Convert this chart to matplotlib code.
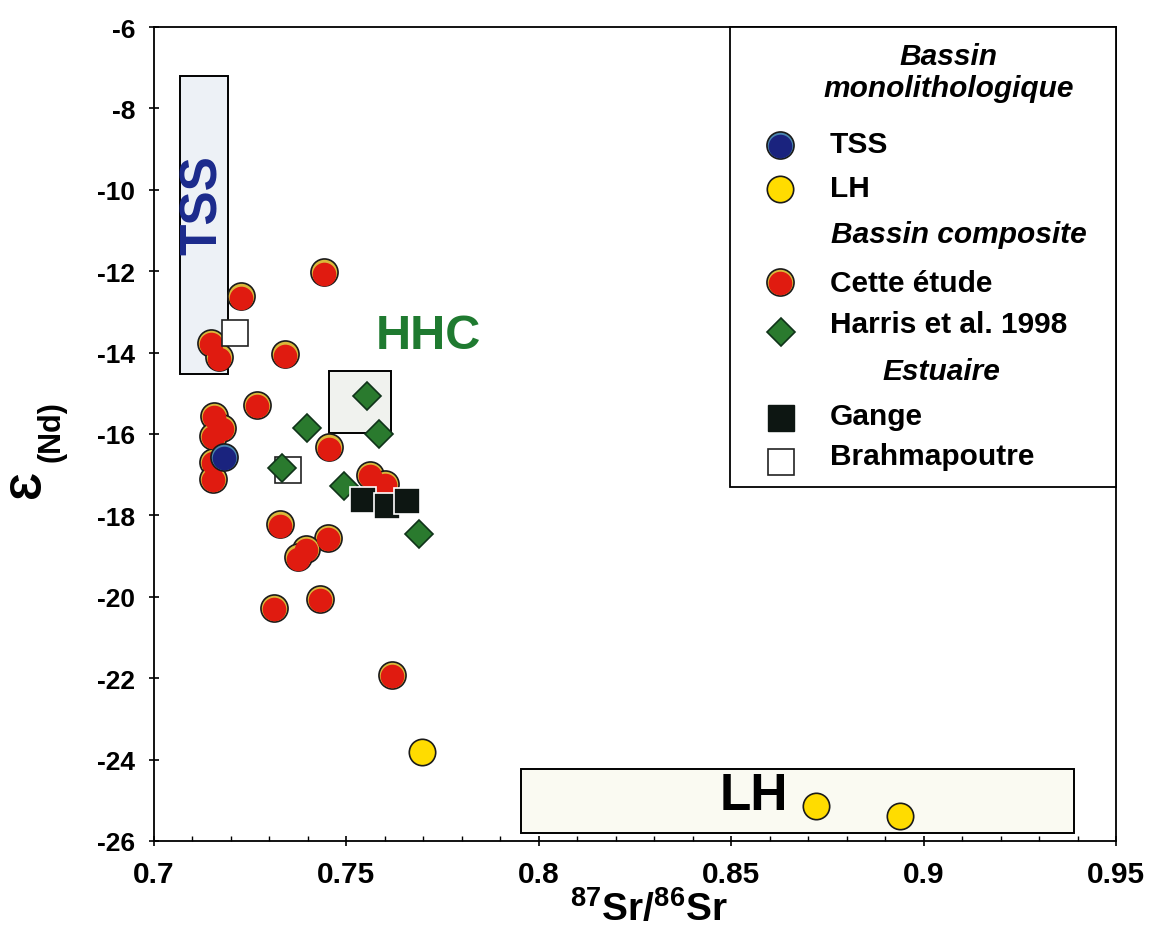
import matplotlib
matplotlib.use('Agg')
import matplotlib.pyplot as plt
from matplotlib.patches import Rectangle
from matplotlib.transforms import offset_copy
from matplotlib.ticker import MultipleLocator

plt.rcParams['font.family'] = ['Liberation Sans', 'DejaVu Sans']
plt.rcParams['font.weight'] = 'bold'
plt.rcParams['mathtext.fontset'] = 'custom'
plt.rcParams['mathtext.rm'] = 'Liberation Sans:bold'
plt.rcParams['mathtext.bf'] = 'Liberation Sans:bold'
plt.rcParams['mathtext.default'] = 'rm'

# données (87Sr/86Sr, eps Nd)
cette_sr = [0.7442, 0.7226, 0.7147, 0.7170, 0.7341, 0.7268, 0.7156, 0.7176, 0.7154,
            0.7153, 0.7153, 0.7455, 0.7561, 0.7600, 0.7327, 0.7453, 0.7395, 0.7375,
            0.7312, 0.7431, 0.7618]
cette_nd = [-12.03, -12.62, -13.76, -14.12, -14.04, -15.28, -15.55, -15.85, -16.04,
            -16.68, -17.11, -16.33, -17.01, -17.23, -18.22, -18.56, -18.83, -19.03,
            -20.28, -20.05, -21.91]
tss_sr = [0.7182]
tss_nd = [-16.57]
lh_sr = [0.7696, 0.8721, 0.8939]
lh_nd = [-23.81, -25.15, -25.39]
harris_sr = [0.7553, 0.7586, 0.7397, 0.7332, 0.7494, 0.7689]
harris_nd = [-15.07, -16.00, -15.85, -16.84, -17.27, -18.46]
gange_sr = [0.7544, 0.7606, 0.7657]
gange_nd = [-17.62, -17.76, -17.65]
brahma_sr = [0.7211, 0.7348]
brahma_nd = [-13.52, -16.88]

# champs des sources (sr min, sr max, nd min, nd max)
champ_tss = (0.7068, 0.7193, -14.52, -7.21)
champ_hhc = (0.7456, 0.7616, -15.98, -14.44)
champ_lh = (0.7953, 0.9392, -25.81, -24.23)

W, H = 1151, 929
fig = plt.figure(figsize=(W / 100, H / 100), dpi=100)
ax = fig.add_axes([154 / W, 1 - 842 / H, 962 / W, 814 / H])


def fx(px):
    return px / W


def fy(py):
    return 1 - py / H


def boules(x, y, face, reflet, tr, z, ms=19.5):
    # cercle avec un liseré clair en haut (effet relief)
    ax.plot(x, y, ls='none', marker='o', ms=ms, mfc=reflet, mec='#1a1a1a', mew=1.2,
            transform=tr, zorder=z, clip_on=False)
    ax.plot(x, y, ls='none', marker='o', ms=ms - 2.5, mfc=face, mec='none',
            transform=offset_copy(tr, fig=fig, x=0, y=-1.3, units='dots'),
            zorder=z + 0.1, clip_on=False)


def champ(c, fc):
    ax.add_patch(Rectangle((c[0], c[2]), c[1] - c[0], c[3] - c[2], fc=fc, ec='black',
                           lw=1.4, zorder=1))


champ(champ_tss, '#edf1f6')
champ(champ_hhc, '#f0f2ee')
champ(champ_lh, '#fafaf2')

ax.text(0.7129, -10.35, 'TSS', rotation=90, color='#1b2a8c',
        fontsize=37, ha='center', va='center', zorder=2)
ax.text(0.7712, -13.59, 'HHC', color='#1f7a30', fontsize=35, ha='center', va='center', zorder=2)
ax.text(0.8559, -24.89, 'LH', color='black', fontsize=37, ha='center', va='center', zorder=2)

red, red_hi = '#e01b10', '#d9b83a'
blue, blue_hi = '#1a237e', '#4a86b0'
yellow = '#ffdc00'
green = '#2a7a2e'
black = '#0d1612'

boules(cette_sr, cette_nd, red, red_hi, ax.transData, 3)
boules(tss_sr, tss_nd, blue, blue_hi, ax.transData, 4)
ax.plot(lh_sr, lh_nd, ls='none', marker='o', ms=19, mfc=yellow, mec='#1a1a1a', mew=1.2, zorder=4)
ax.plot(brahma_sr, brahma_nd, ls='none', marker='s', ms=19, mfc='white', mec='#222222', mew=1.2, zorder=5)
ax.plot(harris_sr, harris_nd, ls='none', marker='D', ms=14, mfc=green, mec='#10331a', mew=1.2, zorder=6)
ax.plot(gange_sr, gange_nd, ls='none', marker='s', ms=19, mfc=black, mec='white', mew=1.2, zorder=7)

ax.set_xlim(0.7, 0.95)
ax.set_ylim(-26, -6)
ax.set_xticks([0.7, 0.75, 0.8, 0.85, 0.9, 0.95])
ax.set_xticklabels(['0.7', '0.75', '0.8', '0.85', '0.9', '0.95'])
ax.xaxis.set_minor_locator(MultipleLocator(0.01))
ax.set_yticks(range(-26, -5, 2))
ax.set_yticklabels([str(v) for v in range(-26, -5, 2)])
ax.tick_params(axis='both', which='major', direction='inout', length=7, width=1.2)
ax.tick_params(axis='x', which='major', pad=10, labelsize=21.5)
ax.tick_params(axis='y', which='major', pad=10, labelsize=19)
ax.tick_params(axis='x', which='minor', direction='in', length=3.5, width=1)
for s in ax.spines.values():
    s.set_linewidth(1.3)

# titres des axes
fig.text(fx(649), fy(921), r'$^{87}$Sr/$^{86}$Sr', fontsize=28, ha='center', va='baseline')
fig.text(fx(29), fy(484), '\u0190', fontsize=32, rotation=90, ha='center', va='center')
fig.text(fx(51), fy(432), '(Nd)', fontsize=22, rotation=90, ha='center', va='center')

# légende
ax.add_patch(Rectangle((fx(730), fy(488)), fx(1116) - fx(730), fy(28) - fy(488),
                       transform=fig.transFigure, fc='white', ec='black', lw=1.3,
                       zorder=10, clip_on=False))
lg = 21.5
for txt, cx, by in [('Bassin', 948, 65), ('monolithologique', 949, 97),
                    ('Bassin composite', 959, 243), ('Estuaire', 941, 380)]:
    fig.text(fx(cx), fy(by), txt, fontsize=lg, style='italic', ha='center', va='baseline', zorder=11)
for txt, by in [('TSS', 153), ('LH', 197), ('Cette étude', 292), ('Harris et al. 1998', 333),
                ('Gange', 425), ('Brahmapoutre', 465)]:
    fig.text(fx(830), fy(by), txt, fontsize=lg, ha='left', va='baseline', zorder=11)

ft = fig.transFigure
boules([fx(780)], [fy(146)], blue, blue_hi, ft, 11)
ax.plot([fx(780)], [fy(190)], ls='none', marker='o', ms=19, mfc=yellow, mec='#1a1a1a', mew=1.2,
        transform=ft, zorder=11, clip_on=False)
boules([fx(780)], [fy(283)], red, red_hi, ft, 11)
ax.plot([fx(781)], [fy(333)], ls='none', marker='D', ms=14, mfc=green, mec='#10331a', mew=1.2,
        transform=ft, zorder=11, clip_on=False)
ax.plot([fx(781)], [fy(419)], ls='none', marker='s', ms=19, mfc=black, mec=black, mew=1.0,
        transform=ft, zorder=11, clip_on=False)
ax.plot([fx(781)], [fy(463)], ls='none', marker='s', ms=19, mfc='white', mec='#222222', mew=1.2,
        transform=ft, zorder=11, clip_on=False)

fig.savefig('out.png', dpi=100)
